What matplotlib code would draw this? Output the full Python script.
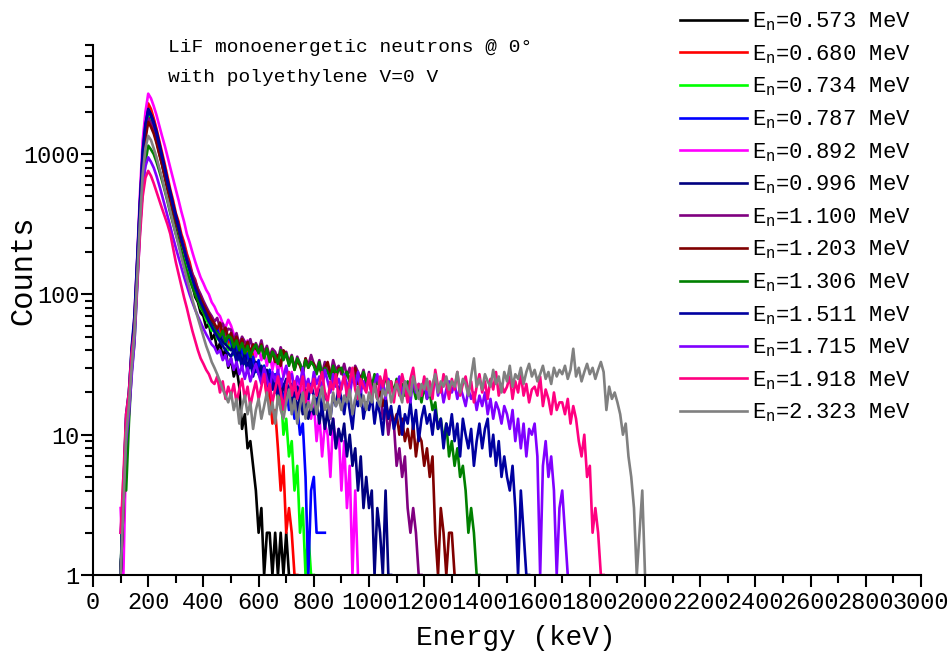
import numpy as np
import matplotlib
matplotlib.use('Agg')
import matplotlib.pyplot as plt
from matplotlib.ticker import MultipleLocator, LogLocator, FixedLocator, NullFormatter, FuncFormatter

plt.rcParams['font.family'] = ['Liberation Mono', 'DejaVu Sans']
plt.rcParams['mathtext.fontset'] = 'custom'
plt.rcParams['mathtext.rm'] = 'Liberation Mono'
plt.rcParams['mathtext.it'] = 'Liberation Mono'

# Spektra: zliczenia w kanalach co 10 keV, od 100 keV
bin_start = 100     # keV
bin_width = 10      # keV

labels = ['0.573', '0.680', '0.734', '0.787', '0.892', '0.996', '1.100',
          '1.203', '1.306', '1.511', '1.715', '1.918', '2.323']
colors = ['#000000', '#FF0000', '#00FF00', '#0000FF', '#FF00FF', '#000080', '#800080',
          '#800000', '#008000', '#0000A0', '#8000FF', '#FF0080', '#808080']

c_0573 = [1, 3, 12, 18, 30, 55, 140, 380, 850, 1400,
          1900, 1750, 1480, 1250, 1020, 850, 690, 560, 470, 380,
          310, 265, 220, 190, 160, 128, 118, 96, 88, 74,
          70, 58, 62, 48, 52, 40, 45, 36, 41, 30,
          35, 26, 30, 22, 11, 14, 8, 9, 6, 4,
          2, 3, 1, 2, 2, 1, 2, 1, 2, 1,
          2, 1]
c_0680 = [1, 2, 10, 16, 35, 62, 160, 430, 1000, 1650,
          2300, 2100, 1800, 1520, 1250, 1030, 850, 690, 560, 470,
          380, 330, 270, 235, 195, 170, 140, 128, 108, 98,
          86, 80, 70, 66, 60, 52, 58, 47, 55, 44,
          50, 41, 46, 38, 43, 35, 40, 32, 38, 29,
          30, 24, 27, 18, 21, 12, 15, 8, 4, 6,
          2, 3, 2, 1, 1]
c_0734 = [1, 3, 9, 15, 30, 58, 150, 400, 920, 1500,
          2000, 1820, 1560, 1330, 1080, 890, 720, 590, 480, 400,
          330, 280, 232, 198, 165, 142, 122, 104, 94, 80,
          75, 66, 62, 55, 58, 48, 52, 44, 49, 40,
          45, 37, 42, 34, 40, 32, 38, 30, 36, 28,
          33, 26, 31, 24, 29, 22, 27, 17, 21, 10,
          13, 7, 9, 4, 6, 2, 3, 1, 2, 1,
          1]
c_0787 = [1, 3, 11, 17, 32, 60, 155, 420, 980, 1580,
          2100, 1900, 1650, 1400, 1150, 950, 780, 630, 520, 430,
          350, 300, 245, 210, 175, 150, 130, 112, 100, 88,
          80, 72, 66, 60, 55, 58, 48, 53, 44, 50,
          46, 38, 43, 36, 41, 33, 38, 30, 36, 28,
          34, 25, 31, 23, 29, 21, 27, 19, 25, 17,
          22, 15, 19, 13, 16, 10, 12, 5, 1, 4,
          5, 2, 2, 2, 2]
c_0892 = [3, 1, 8, 14, 28, 70, 180, 520, 1250, 2000,
          2700, 2500, 2200, 1900, 1600, 1350, 1150, 960, 800, 670,
          560, 470, 390, 330, 270, 235, 200, 172, 150, 132,
          120, 108, 100, 88, 82, 74, 70, 62, 58, 66,
          60, 52, 50, 44, 48, 40, 47, 38, 44, 36,
          42, 34, 40, 31, 38, 29, 36, 28, 33, 26,
          30, 24, 28, 21, 26, 18, 22, 15, 19, 13,
          17, 9, 14, 7, 12, 10, 5, 13, 8, 11,
          4, 9, 3, 6, 1, 4, 1]
c_0996 = [1, 4, 13, 20, 40, 65, 170, 440, 1000, 1600,
          2100, 1920, 1700, 1450, 1200, 980, 800, 650, 540, 440,
          370, 310, 255, 215, 180, 155, 135, 118, 105, 92,
          84, 76, 68, 62, 57, 53, 50, 46, 44, 42,
          40, 44, 36, 40, 32, 38, 30, 35, 28, 33,
          27, 31, 24, 29, 22, 27, 20, 25, 19, 23,
          18, 22, 16, 20, 15, 19, 14, 17, 13, 16,
          14, 18, 12, 16, 11, 15, 10, 13, 8, 11,
          9, 12, 7, 10, 6, 8, 4, 7, 3, 5,
          3, 4, 1, 3, 2, 1, 4, 1, 1]
c_1100 = [1, 3, 11, 16, 36, 58, 150, 380, 850, 1350,
          1800, 1660, 1480, 1270, 1080, 900, 740, 610, 500, 420,
          350, 300, 250, 215, 185, 160, 140, 124, 110, 100,
          90, 82, 75, 70, 64, 68, 58, 62, 52, 57,
          56, 47, 53, 44, 50, 46, 42, 48, 40, 45,
          40, 47, 38, 43, 36, 41, 39, 34, 42, 36,
          39, 33, 37, 30, 36, 32, 28, 35, 31, 37,
          32, 29, 34, 27, 33, 30, 26, 34, 29, 31,
          27, 32, 26, 30, 24, 31, 28, 25, 29, 23,
          28, 22, 25, 18, 21, 13, 16, 10, 14, 12,
          6, 8, 5, 7, 3, 2, 3, 2, 1, 1]
c_1203 = [1, 3, 10, 15, 33, 55, 140, 360, 800, 1280,
          1700, 1560, 1400, 1200, 1000, 840, 690, 570, 470, 395,
          330, 285, 235, 205, 175, 152, 132, 118, 104, 94,
          85, 78, 72, 66, 62, 57, 63, 52, 58, 49,
          53, 45, 50, 42, 48, 40, 46, 38, 44, 41,
          39, 44, 36, 41, 34, 39, 33, 37, 31, 40,
          37, 32, 36, 29, 34, 31, 27, 35, 30, 33,
          32, 28, 31, 26, 30, 33, 27, 29, 25, 30,
          29, 26, 28, 24, 27, 30, 23, 26, 22, 25,
          24, 20, 23, 18, 21, 16, 19, 13, 15, 12,
          14, 10, 13, 9, 11, 8, 12, 7, 10, 9,
          6, 8, 5, 7, 2, 1, 3, 2, 1, 2,
          2, 1]
c_1306 = [1, 5, 4, 12, 28, 45, 120, 300, 560, 880,
          1150, 1080, 1000, 880, 760, 650, 550, 460, 380, 320,
          270, 232, 195, 168, 145, 127, 112, 100, 90, 82,
          75, 69, 64, 60, 56, 53, 50, 55, 46, 51,
          49, 42, 47, 40, 45, 38, 43, 36, 41, 44,
          38, 43, 35, 41, 33, 39, 36, 32, 40, 34,
          38, 31, 36, 29, 35, 32, 28, 34, 30, 33,
          31, 27, 33, 26, 30, 28, 25, 31, 27, 29,
          30, 26, 28, 24, 29, 25, 27, 23, 28, 24,
          26, 22, 27, 23, 25, 21, 26, 22, 24, 20,
          25, 21, 23, 19, 24, 20, 22, 18, 21, 17,
          22, 18, 20, 15, 17, 11, 13, 9, 12, 7,
          9, 6, 8, 5, 6, 4, 2, 3, 2, 1,
          1]
c_1511 = [1, 4, 14, 20, 42, 70, 175, 460, 1050, 1650,
          2050, 1880, 1650, 1400, 1150, 950, 780, 630, 520, 430,
          355, 300, 245, 210, 175, 150, 130, 112, 100, 88,
          80, 72, 64, 59, 54, 50, 46, 43, 40, 38,
          36, 40, 33, 37, 30, 35, 28, 33, 26, 31,
          28, 24, 30, 22, 27, 21, 26, 19, 24, 22,
          25, 20, 23, 17, 22, 19, 15, 21, 18, 23,
          19, 16, 21, 14, 20, 17, 13, 19, 16, 22,
          18, 14, 20, 15, 11, 18, 16, 21, 13, 17,
          15, 19, 12, 17, 14, 10, 18, 13, 16, 11,
          13, 16, 10, 14, 12, 17, 11, 15, 9, 13,
          16, 12, 14, 10, 15, 11, 13, 8, 12, 10,
          14, 9, 12, 7, 13, 10, 8, 11, 6, 9,
          12, 8, 11, 13, 7, 10, 6, 9, 5, 7,
          5, 4, 6, 3, 1, 4, 2, 1, 1]
c_1715 = [2, 4, 9, 14, 26, 45, 110, 280, 600, 820,
          950, 880, 800, 700, 600, 510, 430, 365, 305, 255,
          215, 183, 155, 133, 115, 100, 88, 78, 70, 63,
          57, 52, 48, 44, 42, 38, 40, 34, 37, 31,
          35, 29, 33, 27, 31, 25, 30, 24, 28, 32,
          27, 23, 30, 25, 21, 28, 24, 29, 22, 26,
          31, 24, 27, 21, 26, 23, 30, 22, 25, 20,
          28, 23, 26, 21, 29, 24, 20, 27, 22, 25,
          21, 27, 23, 19, 26, 22, 28, 20, 24, 21,
          26, 19, 23, 27, 21, 24, 18, 25, 22, 20,
          22, 26, 19, 24, 21, 17, 25, 20, 23, 19,
          25, 18, 22, 20, 26, 19, 23, 17, 21, 24,
          20, 23, 18, 22, 19, 16, 21, 18, 20, 15,
          19, 16, 20, 14, 18, 13, 17, 15, 12, 16,
          14, 11, 15, 9, 13, 8, 12, 7, 11, 10,
          12, 7, 1, 6, 9, 5, 7, 4, 1, 3,
          4, 2, 1]
c_1918 = [2, 5, 14, 20, 38, 55, 120, 260, 500, 680,
          760, 700, 620, 540, 470, 410, 360, 315, 270, 215,
          170, 140, 115, 95, 80, 66, 55, 47, 40, 35,
          32, 29, 27, 24, 23, 26, 20, 24, 18, 22,
          19, 23, 17, 21, 25, 18, 22, 16, 20, 24,
          18, 22, 27, 19, 23, 17, 21, 26, 20, 15,
          22, 28, 19, 24, 18, 21, 26, 17, 23, 20,
          25, 19, 23, 28, 20, 17, 24, 21, 27, 18,
          22, 26, 19, 24, 30, 21, 18, 25, 22, 20,
          27, 19, 23, 18, 26, 22, 29, 20, 24, 17,
          24, 19, 27, 22, 17, 25, 30, 21, 23, 19,
          26, 21, 24, 18, 29, 22, 20, 27, 23, 18,
          25, 21, 28, 19, 23, 26, 20, 24, 17, 22,
          27, 20, 24, 18, 25, 21, 28, 19, 23, 20,
          22, 26, 18, 24, 20, 27, 19, 23, 17, 21,
          22, 19, 26, 16, 21, 18, 14, 20, 15, 17,
          17, 14, 18, 12, 16, 13, 9, 7, 10, 5,
          6, 2, 3, 2, 1, 1]
c_2323 = [1, 3, 10, 16, 30, 52, 130, 330, 720, 1100,
          1350, 1260, 1100, 950, 800, 680, 560, 470, 390, 325,
          270, 225, 185, 155, 130, 110, 92, 79, 68, 58,
          50, 43, 38, 33, 30, 27, 24, 21, 19, 17,
          20, 15, 18, 12, 16, 19, 14, 17, 11, 15,
          18, 13, 16, 20, 14, 17, 12, 19, 15, 13,
          17, 21, 14, 18, 12, 16, 20, 13, 17, 15,
          19, 14, 18, 22, 15, 17, 13, 20, 16, 18,
          15, 19, 17, 21, 14, 18, 22, 16, 19, 15,
          20, 17, 23, 18, 16, 21, 19, 24, 17, 20,
          23, 20, 17, 24, 21, 19, 26, 22, 18, 23,
          21, 25, 19, 23, 27, 20, 24, 22, 26, 21,
          24, 22, 28, 20, 25, 23, 19, 26, 35, 22,
          25, 21, 27, 24, 22, 29, 23, 26, 20, 28,
          24, 31, 22, 27, 25, 30, 23, 28, 32, 26,
          29, 24, 27, 31, 25, 28, 23, 30, 26, 29,
          27, 31, 25, 29, 41, 26, 30, 24, 28, 32,
          27, 30, 25, 29, 33, 28, 15, 22, 18, 20,
          17, 14, 10, 12, 7, 5, 3, 1, 2, 4,
          1]

spectra = [c_0573, c_0680, c_0734, c_0787, c_0892, c_0996, c_1100,
           c_1203, c_1306, c_1511, c_1715, c_1918, c_2323]

fig = plt.figure(figsize=(9.51, 6.59), dpi=100)
ax = fig.add_axes([0.0978, 0.1275, 0.8707, 0.8042])

for counts, lab, col in zip(spectra, labels, colors):
    energy = bin_start + bin_width * np.arange(len(counts))
    ax.plot(energy, counts, color=col, lw=1.9, label=r'E$_{\rm n}$=' + lab + ' MeV')

ax.set_yscale('log')
ax.set_xlim(0, 3000)
ax.set_ylim(1, 6000)

ax.spines['top'].set_visible(False)
ax.spines['right'].set_visible(False)
ax.spines['left'].set_linewidth(1.5)
ax.spines['bottom'].set_linewidth(1.5)

ax.xaxis.set_major_locator(MultipleLocator(200))
ax.xaxis.set_minor_locator(MultipleLocator(100))
ax.yaxis.set_major_locator(FixedLocator([1, 10, 100, 1000]))
ax.yaxis.set_major_formatter(FuncFormatter(lambda v, p: '%d' % v))
ax.yaxis.set_minor_locator(LogLocator(base=10, subs=np.arange(2, 10)))
ax.yaxis.set_minor_formatter(NullFormatter())
ax.tick_params(which='major', direction='out', length=8.6, width=1.5, labelsize=17, pad=3)
ax.tick_params(which='minor', direction='out', length=5.5, width=1.5)
ax.tick_params(axis='y', which='major', pad=1)

ax.set_xlabel('Energy (keV)', fontsize=20)
ax.xaxis.set_label_coords(0.51, -0.095)
ax.set_ylabel('Counts', fontsize=22)
ax.yaxis.set_label_coords(-0.066, 0.575)

fig.text(168 / 951, 1 - 52 / 659, 'LiF monoenergetic neutrons @ 0°', fontsize=14, va='baseline')
fig.text(168 / 951, 1 - 82 / 659, 'with polyethylene V=0 V', fontsize=14, va='baseline')

fig.legend(loc='upper left', bbox_to_anchor=(680 / 951, 0.984), frameon=False, fontsize=16,
           handlelength=3.0, handletextpad=0.25, labelspacing=0.45, borderpad=0, borderaxespad=0)

fig.savefig('out.png', dpi=100)
